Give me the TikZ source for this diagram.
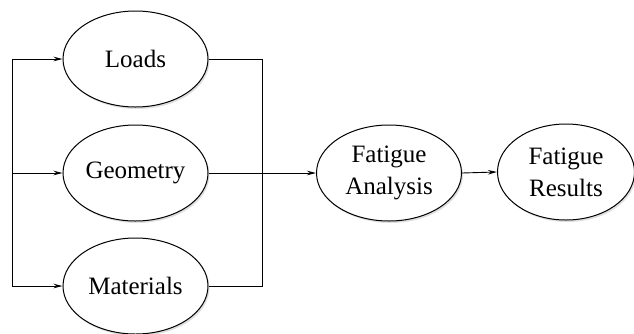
\documentclass[tikz,border=0pt]{standalone}
\usepackage{fontspec}
\setmainfont{Liberation Serif}
\usetikzlibrary{shapes.geometric,arrows.meta,shadows}
\begin{document}
\begin{tikzpicture}[x=1pt,y=-1pt,
  oval/.style={ellipse,draw,line width=1pt,fill=white,minimum width=145pt,minimum height=96pt,inner sep=0pt,
    align=center,font=\rmfamily\fontsize{25}{32}\selectfont,
    drop shadow={shadow xshift=1.5pt,shadow yshift=-2pt,opacity=0.25,fill=gray}},
  conn/.style={line width=0.9pt},
  arr/.style={conn,-{Stealth[length=9pt,width=4.5pt]}}]
\useasboundingbox (0,0) rectangle (634,333);
\node[oval] (loads) at (135.5,59) {Loads};
\node[oval] (geom) at (135.5,173) {Geometry};
\node[oval] (mat) at (135.5,286) {Materials};
\node[oval] (fa) at (389,173) {Fatigue\\Analysis};
\node[oval,minimum width=137pt] (fr) at (566,172) {Fatigue\\Results};
\coordinate (lt) at (12,59);
\coordinate (lm) at (12,173);
\coordinate (lb) at (12,286);
\coordinate (rt) at (262,59);
\coordinate (rb) at (262,286);
\draw[conn] (lt) -- (lb);
\draw[arr] (lt) -- (loads.west);
\draw[arr] (lm) -- (geom.west);
\draw[arr] (lb) -- (mat.west);
\draw[conn] (loads.east) -- (rt) -- (rb) -- (mat.east);
\draw[arr] (geom.east) -- (fa.west);
\draw[arr] (fa.east) -- (fr.west);
\end{tikzpicture}
\end{document}
